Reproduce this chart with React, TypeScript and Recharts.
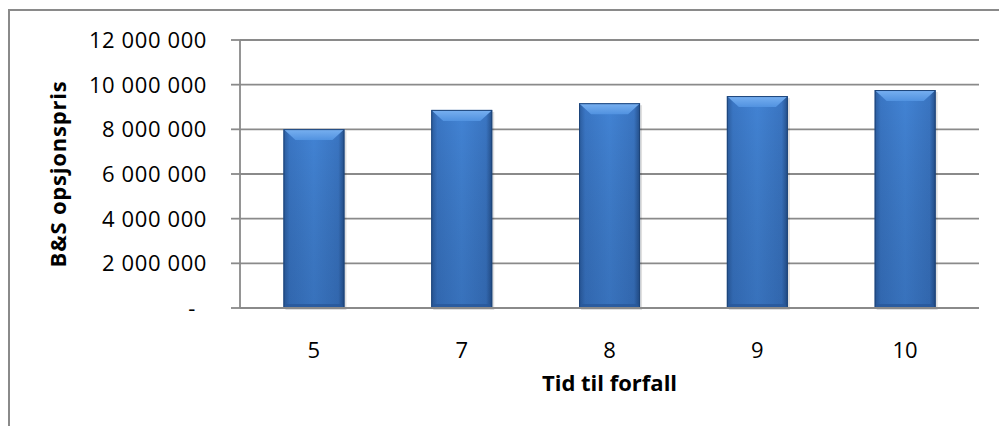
import { Bar, BarChart, CartesianGrid, Label, XAxis, YAxis } from 'recharts'

const categories = ['5', '7', '8', '9', '10']
const prices = [8010000, 8870000, 9170000, 9490000, 9760000]
const yTicks = [0, 2000000, 4000000, 6000000, 8000000, 10000000, 12000000]

const data = categories.map((c, i) => ({ tid: c, pris: prices[i] }))

const FONT = '"Open Sans", "Liberation Sans", sans-serif'
const GRID = '#8a8a8a'

function fmt(v: number): string {
  if (v === 0) return '-'
  return String(Math.round(v)).replace(/\B(?=(\d{3})+(?!\d))/g, ' ')
}

function YTick(props: any) {
  const { x, y, payload } = props
  const zero = payload.value === 0
  return (
    <text x={zero ? x - 11 : x} y={y} dy={8} textAnchor="end" fill="#000" fontFamily={FONT} fontSize={22} letterSpacing={0.6}>
      {fmt(payload.value)}
    </text>
  )
}

function XTick(props: any) {
  const { x, y, payload } = props
  return (
    <text x={x} y={y} dy={16} textAnchor="middle" fill="#000" fontFamily={FONT} fontSize={22}>
      {payload.value}
    </text>
  )
}

function BevelBar(props: any) {
  const { x, y, width, height } = props
  if (!height || height <= 0) return null
  const b = 12
  return (
    <g>
      <rect x={x + 2} y={y + 2} width={width} height={height} fill="#000" opacity={0.12} />
      <rect x={x} y={y} width={width} height={height} fill="url(#barBody)" />
      <rect x={x} y={y} width={width} height={height} fill="url(#barShade)" />
      <path d={`M${x},${y} L${x + width},${y} L${x + width - b},${y + 11} L${x + b},${y + 11} Z`} fill="url(#barTop)" />
      <path d={`M${x},${y + height} L${x + width},${y + height} L${x + width - 3},${y + height - 4} L${x + 3},${y + height - 4} Z`} fill="#28579a" opacity={0.8} />
      <rect x={x + 0.5} y={y + 0.5} width={width - 1} height={height - 1} fill="none" stroke="#1d4479" strokeWidth={1} />
    </g>
  )
}

export default function App() {
  return (
    <div style={{ position: 'absolute', left: 0, top: 0, width: 999, height: 426, overflow: 'hidden', background: '#fff' }}>
      <div style={{ position: 'absolute', left: 8, top: 9, width: 1100, height: 600, border: '2px solid #8a8a8a', boxSizing: 'border-box' }} />
      <div style={{ position: 'absolute', left: 0, top: 0 }}>
        <BarChart width={999} height={426} data={data} margin={{ top: 40, right: 20, left: 0, bottom: 0 }} barCategoryGap="29.4%">
          <defs>
            <linearGradient id="barBody" x1="0" y1="0" x2="1" y2="0">
              <stop offset="0%" stopColor="#2b5c9e" />
              <stop offset="10%" stopColor="#3a76c4" />
              <stop offset="50%" stopColor="#4283d4" />
              <stop offset="90%" stopColor="#3a75c2" />
              <stop offset="100%" stopColor="#244f8a" />
            </linearGradient>
            <linearGradient id="barShade" x1="0" y1="0" x2="0" y2="1">
              <stop offset="0%" stopColor="#000" stopOpacity={0} />
              <stop offset="100%" stopColor="#0a2450" stopOpacity={0.18} />
            </linearGradient>
            <linearGradient id="barTop" x1="0" y1="0" x2="0" y2="1">
              <stop offset="0%" stopColor="#79b1f1" />
              <stop offset="100%" stopColor="#5192e0" />
            </linearGradient>
          </defs>
          <CartesianGrid vertical={false} stroke={GRID} strokeWidth={1.8} />
          <XAxis
            dataKey="tid"
            height={118}
            tick={<XTick />}
            tickLine={false}
            tickMargin={28}
            axisLine={{ stroke: GRID, strokeWidth: 1.8 }}
          >
            <Label
              content={() => (
                <text x={609.5} y={391} textAnchor="middle" fontFamily={FONT} fontWeight="bold" fontSize={22} fill="#000">
                  Tid til forfall
                </text>
              )}
            />
          </XAxis>
          <YAxis
            width={240}
            domain={[0, 12000000]}
            ticks={yTicks}
            interval={0}
            tick={<YTick />}
            tickSize={9}
            tickMargin={24}
            tickLine={{ stroke: GRID, strokeWidth: 1.8 }}
            axisLine={{ stroke: GRID, strokeWidth: 1.8 }}
          >
            <Label
              content={() => (
                <text
                  x={0}
                  y={0}
                  transform="translate(66,174) rotate(-90)"
                  textAnchor="middle"
                  fontFamily={FONT}
                  fontWeight="bold"
                  fontSize={22}
                  letterSpacing={0.8}
                  fill="#000"
                >
                  B&amp;S opsjonspris
                </text>
              )}
            />
          </YAxis>
          <Bar dataKey="pris" shape={<BevelBar />} isAnimationActive={false} />
        </BarChart>
      </div>
    </div>
  )
}
